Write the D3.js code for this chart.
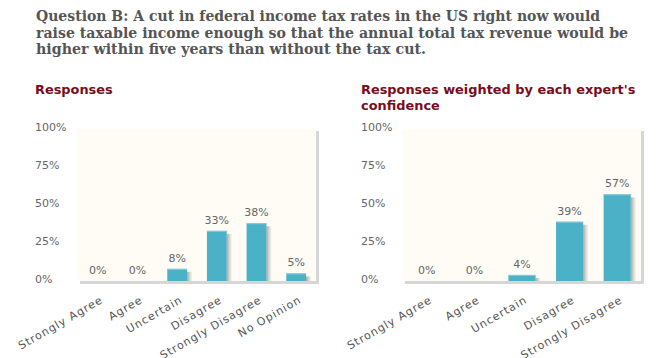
<!DOCTYPE html>
<html><head><meta charset="utf-8">
<script src="https://cdn.jsdelivr.net/npm/d3@7"></script>
<style>
body{margin:0;background:#fff;}
svg{display:block;}
</style></head>
<body>
<svg id="c" width="665" height="358"></svg>
<script>
const titleLines = [
  "Question B: A cut in federal income tax rates in the US right now would",
  "raise taxable income enough so that the annual total tax revenue would be",
  "higher within five years than without the tax cut."
];
const leftTitle = ["Responses"];
const rightTitle = ["Responses weighted by each expert's", "confidence"];
const leftCategories = ["Strongly Agree","Agree","Uncertain","Disagree","Strongly Disagree","No Opinion"];
const leftValues = [0,0,8,33,38,5];
const rightCategories = ["Strongly Agree","Agree","Uncertain","Disagree","Strongly Disagree"];
const rightValues = [0,0,4,39,57];
const yTicks = [0,25,50,75,100];

const svg = d3.select("#c");
const defs = svg.append("defs");
const g1 = defs.append("linearGradient").attr("id","bshadow").attr("x1",0).attr("x2",1).attr("y1",0).attr("y2",0);
g1.append("stop").attr("offset","0%").attr("stop-color","#9a9a9a").attr("stop-opacity",0.9);
g1.append("stop").attr("offset","100%").attr("stop-color","#c8c8c8").attr("stop-opacity",0.2);

// main title
const titleWidths = [564, 592, 390];
const tg = svg.append("g");
titleLines.forEach((t,i)=>{
  tg.append("text").attr("x",36).attr("y",21+i*16.7)
    .attr("font-family","'DejaVu Serif', serif").attr("font-weight","bold")
    .attr("font-size",15).attr("fill","#555")
    .attr("textLength",titleWidths[i]).attr("lengthAdjust","spacingAndGlyphs").text(t);
});

function chart(opts){
  const {x0,x1,categories,values,title,padding,titleX} = opts;
  const yTop=129, yBot=281;
  const g = svg.append("g");
  title.forEach((t,i)=>{
    g.append("text").attr("x",titleX).attr("y",94+i*16)
      .attr("font-family","'DejaVu Sans', Verdana, sans-serif").attr("font-weight","bold")
      .attr("font-size",12.9).attr("fill","#7a0c1c").text(t);
  });
  const x = d3.scaleBand().domain(categories).range([x0,x1]).paddingInner(padding).paddingOuter(padding/2);
  const y = d3.scaleLinear().domain([0,100]).range([yBot,yTop]);
  // plot shadow
  g.append("rect").attr("x",x1).attr("y",yTop+2).attr("width",3).attr("height",yBot-yTop+1).attr("fill","#d6d6d6");
  g.append("rect").attr("x",x0+2).attr("y",yBot).attr("width",x1-x0+1).attr("height",3).attr("fill","#d6d6d6");
  g.append("rect").attr("x",x0).attr("y",yTop).attr("width",x1-x0).attr("height",yBot-yTop).attr("fill","#fefcf4");
  // y tick labels
  yTicks.forEach(v=>{
    g.append("text").attr("x",titleX).attr("y",y(v)+2)
      .attr("font-family","'DejaVu Sans', Verdana, sans-serif").attr("font-size",11)
      .attr("fill","#666").text(v+"%");
  });
  // bars
  categories.forEach((c,i)=>{
    const v = values[i];
    const bx = x(c), bw = x.bandwidth(), by = y(v), bh = yBot - by;
    if (bh > 0) {
      g.append("rect").attr("x",bx+bw).attr("y",by+3).attr("width",5).attr("height",Math.max(0,bh-3)).attr("fill","url(#bshadow)");
      g.append("rect").attr("x",bx).attr("y",by).attr("width",bw).attr("height",bh).attr("fill","#4bb1c6");
      g.append("rect").attr("x",bx).attr("y",by).attr("width",bw).attr("height",1).attr("fill","#86cbda");
    }
    g.append("text").attr("x",bx+bw/2).attr("y",by-7).attr("text-anchor","middle")
      .attr("font-family","'DejaVu Sans', Verdana, sans-serif").attr("font-size",11)
      .attr("fill","#666").text(v+"%");
    const cx = bx+bw/2;
    g.append("text").attr("transform",`translate(${cx+6},${yBot+21}) rotate(-30)`)
      .attr("text-anchor","end")
      .attr("font-family","'DejaVu Sans', Verdana, sans-serif").attr("font-size",11)
      .attr("letter-spacing",1.0)
      .attr("fill","#555").text(c);
  });
}
chart({x0:78,x1:316,categories:leftCategories,values:leftValues,title:leftTitle,padding:0.5,titleX:35});
chart({x0:403,x1:641,categories:rightCategories,values:rightValues,title:rightTitle,padding:0.43,titleX:361});
</script>
</body></html>
